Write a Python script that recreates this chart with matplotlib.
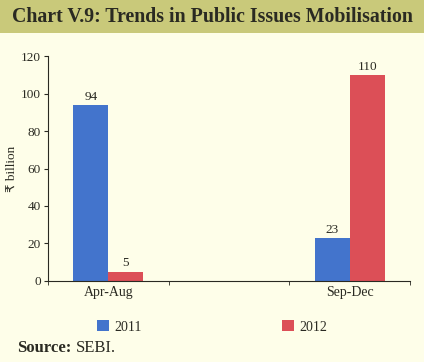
import matplotlib.pyplot as plt
from matplotlib.patches import Rectangle

categories = ['Apr-Aug', '', 'Sep-Dec']
series_2011 = [94, None, 23]
series_2012 = [5, None, 110]
yticks = [0, 20, 40, 60, 80, 100, 120]

bg = '#fefee9'
blue = '#4374cc'
red = '#dc4f57'
txt = '#2a2a22'

plt.rcParams['font.family'] = ['Liberation Serif', 'DejaVu Sans']

fig = plt.figure(figsize=(4.24, 3.62), dpi=100, facecolor=bg)

# title band
fig.patches.append(Rectangle((0, 0.909), 1, 0.091, transform=fig.transFigure,
                             facecolor='#c9c97a', edgecolor='none', zorder=0))
fig.text(0.5, 0.953, 'Chart V.9: Trends in Public Issues Mobilisation',
         ha='center', va='center', fontsize=14.3, fontweight='bold', color=txt)

ax = fig.add_axes([0.113, 0.224, 0.854, 0.621])
ax.set_facecolor(bg)

w = 0.29
for i, (a, b) in enumerate(zip(series_2011, series_2012)):
    if a is None:
        continue
    ax.bar(i - w / 2, a, w, color=blue, label='2011' if i == 0 else None)
    ax.bar(i + w / 2, b, w, color=red, label='2012' if i == 0 else None)
    ax.text(i - w / 2, a + 1.2, str(a), ha='center', va='bottom', fontsize=9.5, color=txt)
    ax.text(i + w / 2, b + 1.2, str(b), ha='center', va='bottom', fontsize=9.5, color=txt)

ax.set_xlim(-0.5, 2.5)
ax.set_ylim(0, 120)
ax.set_yticks(yticks)
ax.set_xticks([0, 2])
ax.set_xticklabels([categories[0], categories[2]], fontsize=10, color=txt)
ax.set_xticks([-0.5, 0.5, 1.5, 2.5], minor=True)
ax.tick_params(axis='x', which='major', length=0, pad=4)
ax.tick_params(axis='x', which='minor', length=3, direction='out', color=txt)
ax.tick_params(axis='y', labelsize=9.5, length=3, color=txt, labelcolor=txt, pad=2)
for s in ['top', 'right']:
    ax.spines[s].set_visible(False)
for s in ['left', 'bottom']:
    ax.spines[s].set_color(txt)
    ax.spines[s].set_linewidth(0.8)
ax.set_ylabel('₹ billion', fontsize=9.5, color=txt, labelpad=2)

h, l = ax.get_legend_handles_labels()
fig.legend(h, l, loc='center', bbox_to_anchor=(0.5, 0.097), ncol=2, frameon=False,
           fontsize=10, handlelength=0.85, handleheight=0.85, handletextpad=0.4,
           columnspacing=10.1, labelcolor=txt)

fig.text(0.04, 0.038, 'Source:', fontsize=12, fontweight='bold', color=txt, va='center')
fig.text(0.178, 0.038, 'SEBI.', fontsize=12, color=txt, va='center')

fig.savefig('out.png', dpi=100, facecolor=bg)
